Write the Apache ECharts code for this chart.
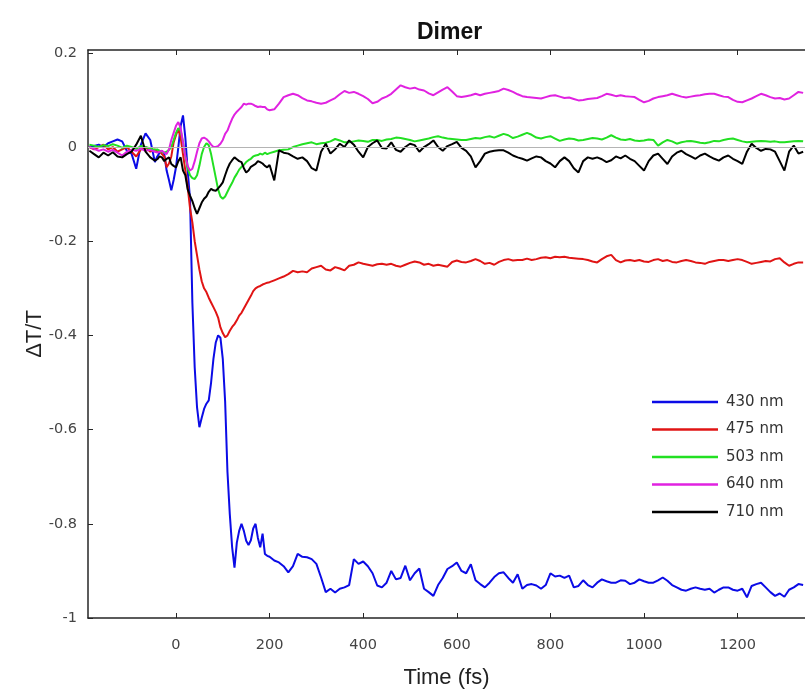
<!DOCTYPE html>
<html>
<head>
<meta charset="utf-8">
<title>Dimer</title>
<script src="https://cdn.jsdelivr.net/npm/echarts@6/dist/echarts.min.js"></script>
<style>
  html, body { margin: 0; padding: 0; background: #ffffff; }
  #chart { width: 805px; height: 695px; }
</style>
</head>
<body>
<div id="chart"></div>
<script>
// Pump-probe delay times (fs); finer sampling around time zero
const times = [
  -185, -175, -165, -155, -145, -135, -125, -115, -105, -95, -85, -75, -65, -55, -45,
  -40, -35, -30, -25, -20, -15, -10, -5, 0, 5,
  10, 15, 20, 25, 30, 35, 40, 45, 50, 55,
  60, 65, 70, 75, 80, 85, 90, 95, 100, 105,
  110, 115, 120, 125, 130, 135, 140, 145, 150, 155,
  160, 165, 170, 175, 180, 185, 190, 195, 200,
  210, 220, 230, 240, 250, 260, 270, 280, 290, 300,
  310, 320, 330, 340, 350, 360, 370, 380, 390, 400,
  410, 420, 430, 440, 450, 460, 470, 480, 490, 500,
  510, 520, 530, 540, 550, 560, 570, 580, 590, 600,
  610, 620, 630, 640, 650, 660, 670, 680, 690, 700,
  710, 720, 730, 740, 750, 760, 770, 780, 790, 800,
  810, 820, 830, 840, 850, 860, 870, 880, 890, 900,
  910, 920, 930, 940, 950, 960, 970, 980, 990, 1000,
  1010, 1020, 1030, 1040, 1050, 1060, 1070, 1080, 1090, 1100,
  1110, 1120, 1130, 1140, 1150, 1160, 1170, 1180, 1190, 1200,
  1210, 1220, 1230, 1240, 1250, 1260, 1270, 1280, 1290, 1300,
  1310, 1320, 1330, 1340
];

// ΔT/T transients at each probe wavelength
const dT430 = [
  0.000, 0.002, 0.005, 0.000, 0.008, 0.012, 0.016, 0.012, -0.008, -0.014, -0.046, 0.005, 0.029, 0.015, -0.032,
  -0.020, -0.012, -0.008, -0.015, -0.050, -0.070, -0.092, -0.070, -0.043, 0.000,
  0.045, 0.067, 0.020, -0.050, -0.110, -0.330, -0.468, -0.553, -0.595, -0.575,
  -0.556, -0.545, -0.538, -0.500, -0.450, -0.415, -0.400, -0.405, -0.450, -0.540,
  -0.690, -0.780, -0.850, -0.893, -0.840, -0.815, -0.800, -0.815, -0.836, -0.845,
  -0.835, -0.810, -0.800, -0.830, -0.850, -0.821, -0.864, -0.868, -0.870,
  -0.878, -0.882, -0.890, -0.903, -0.890, -0.864, -0.870, -0.871, -0.875, -0.885,
  -0.914, -0.945, -0.938, -0.946, -0.938, -0.935, -0.930, -0.875, -0.885, -0.880,
  -0.890, -0.905, -0.931, -0.935, -0.925, -0.900, -0.918, -0.915, -0.889, -0.920,
  -0.905, -0.895, -0.938, -0.945, -0.953, -0.930, -0.915, -0.896, -0.890, -0.882,
  -0.900, -0.905, -0.886, -0.920, -0.928, -0.935, -0.925, -0.913, -0.905, -0.903,
  -0.915, -0.925, -0.907, -0.938, -0.930, -0.928, -0.931, -0.938, -0.930, -0.905,
  -0.912, -0.910, -0.915, -0.910, -0.935, -0.932, -0.920, -0.930, -0.935, -0.925,
  -0.918, -0.922, -0.925, -0.925, -0.920, -0.921, -0.928, -0.925, -0.918, -0.922,
  -0.925, -0.925, -0.920, -0.914, -0.921, -0.930, -0.935, -0.940, -0.942, -0.938,
  -0.935, -0.938, -0.940, -0.938, -0.946, -0.940, -0.935, -0.935, -0.940, -0.942,
  -0.938, -0.956, -0.932, -0.928, -0.925, -0.935, -0.945, -0.953, -0.948, -0.955,
  -0.940, -0.935, -0.928, -0.930
];
const dT475 = [
  0.000, -0.005, 0.000, 0.005, -0.005, 0.000, -0.010, -0.005, 0.000, -0.010, -0.020, -0.005, 0.000, -0.010, -0.005,
  -0.010, -0.008, -0.015, -0.020, -0.043, -0.035, -0.020, 0.010, 0.025, 0.039,
  0.020, -0.015, -0.050, -0.085, -0.130, -0.160, -0.200, -0.230, -0.260, -0.285,
  -0.300, -0.308, -0.320, -0.330, -0.340, -0.350, -0.362, -0.383, -0.395, -0.404,
  -0.400, -0.390, -0.382, -0.376, -0.368, -0.358, -0.352, -0.343, -0.334, -0.325,
  -0.316, -0.306, -0.300, -0.297, -0.295, -0.292, -0.290, -0.288, -0.287,
  -0.283, -0.279, -0.275, -0.270, -0.263, -0.266, -0.264, -0.266, -0.258, -0.255,
  -0.252, -0.260, -0.262, -0.255, -0.258, -0.262, -0.252, -0.250, -0.245, -0.248,
  -0.250, -0.252, -0.249, -0.248, -0.250, -0.248, -0.252, -0.254, -0.250, -0.246,
  -0.243, -0.245, -0.250, -0.248, -0.252, -0.250, -0.252, -0.254, -0.244, -0.241,
  -0.244, -0.245, -0.242, -0.238, -0.242, -0.248, -0.246, -0.250, -0.244, -0.240,
  -0.238, -0.241, -0.240, -0.240, -0.237, -0.240, -0.238, -0.235, -0.234, -0.236,
  -0.233, -0.234, -0.233, -0.235, -0.236, -0.237, -0.238, -0.240, -0.243, -0.245,
  -0.238, -0.232, -0.229, -0.240, -0.245, -0.241, -0.240, -0.242, -0.240, -0.243,
  -0.244, -0.240, -0.238, -0.242, -0.240, -0.244, -0.245, -0.242, -0.240, -0.242,
  -0.245, -0.246, -0.248, -0.244, -0.242, -0.240, -0.240, -0.242, -0.240, -0.238,
  -0.240, -0.244, -0.248, -0.246, -0.244, -0.242, -0.243, -0.238, -0.236, -0.245,
  -0.252, -0.248, -0.245, -0.245
];
const dT503 = [
  0.005, 0.003, 0.000, 0.004, 0.002, 0.006, 0.003, -0.002, 0.003, 0.000, -0.004, 0.002, 0.000, -0.003, -0.006,
  -0.005, -0.008, -0.010, -0.012, -0.010, -0.006, 0.000, 0.015, 0.030, 0.040,
  0.035, 0.010, -0.020, -0.045, -0.060, -0.066, -0.068, -0.060, -0.040, -0.015,
  0.000, 0.008, 0.004, -0.015, -0.040, -0.065, -0.090, -0.105, -0.110, -0.105,
  -0.095, -0.085, -0.076, -0.065, -0.057, -0.048, -0.042, -0.038, -0.032, -0.028,
  -0.025, -0.020, -0.018, -0.017, -0.014, -0.016, -0.012, -0.015, -0.013,
  -0.010, -0.007, -0.006, -0.005, 0.000, 0.003, 0.006, 0.008, 0.010, 0.006,
  0.008, 0.009, 0.012, 0.017, 0.014, 0.010, 0.010, 0.012, 0.014, 0.013,
  0.011, 0.015, 0.015, 0.013, 0.016, 0.017, 0.020, 0.019, 0.017, 0.015,
  0.012, 0.014, 0.016, 0.018, 0.021, 0.023, 0.020, 0.018, 0.017, 0.016,
  0.015, 0.015, 0.017, 0.019, 0.018, 0.021, 0.023, 0.020, 0.024, 0.028,
  0.025, 0.019, 0.022, 0.026, 0.030, 0.026, 0.020, 0.018, 0.021, 0.023,
  0.018, 0.013, 0.016, 0.018, 0.017, 0.014, 0.015, 0.017, 0.019, 0.018,
  0.016, 0.020, 0.025, 0.020, 0.016, 0.015, 0.017, 0.014, 0.013, 0.014,
  0.016, 0.015, 0.003, 0.010, 0.015, 0.012, 0.007, 0.010, 0.012, 0.013,
  0.011, 0.009, 0.008, 0.010, 0.013, 0.012, 0.015, 0.017, 0.018, 0.015,
  0.012, 0.010, 0.011, 0.012, 0.013, 0.012, 0.011, 0.012, 0.010, 0.010,
  0.011, 0.012, 0.013, 0.012
];
const dT640 = [
  0.000, -0.004, -0.008, -0.005, -0.010, -0.006, -0.012, -0.018, -0.010, -0.006, -0.008, -0.004, -0.008, -0.006, -0.010,
  -0.012, -0.010, -0.008, -0.012, -0.015, -0.005, 0.015, 0.030, 0.045, 0.053,
  0.040, 0.010, -0.020, -0.040, -0.050, -0.046, -0.030, -0.010, 0.008, 0.018,
  0.020, 0.017, 0.012, 0.005, 0.000, 0.000, 0.002, 0.007, 0.015, 0.028,
  0.035, 0.048, 0.060, 0.069, 0.075, 0.080, 0.085, 0.092, 0.090, 0.092,
  0.092, 0.090, 0.087, 0.085, 0.086, 0.085, 0.085, 0.080, 0.078,
  0.080, 0.092, 0.106, 0.110, 0.113, 0.110, 0.104, 0.099, 0.097, 0.094,
  0.092, 0.094, 0.099, 0.104, 0.112, 0.119, 0.115, 0.117, 0.113, 0.108,
  0.102, 0.093, 0.096, 0.103, 0.107, 0.113, 0.122, 0.131, 0.127, 0.124,
  0.126, 0.122, 0.120, 0.114, 0.110, 0.116, 0.122, 0.127, 0.118, 0.108,
  0.106, 0.108, 0.110, 0.113, 0.110, 0.113, 0.115, 0.117, 0.119, 0.124,
  0.121, 0.117, 0.112, 0.108, 0.106, 0.105, 0.104, 0.103, 0.106, 0.109,
  0.110, 0.107, 0.104, 0.105, 0.102, 0.099, 0.100, 0.102, 0.103, 0.104,
  0.108, 0.113, 0.111, 0.108, 0.110, 0.108, 0.107, 0.106, 0.100, 0.095,
  0.098, 0.103, 0.106, 0.108, 0.110, 0.113, 0.110, 0.107, 0.105, 0.107,
  0.109, 0.110, 0.112, 0.113, 0.113, 0.110, 0.107, 0.106, 0.100, 0.096,
  0.095, 0.099, 0.103, 0.108, 0.113, 0.110, 0.106, 0.103, 0.104, 0.101,
  0.103, 0.110, 0.117, 0.115
];
const dT710 = [
  -0.008, -0.015, -0.022, -0.012, -0.018, -0.011, -0.020, -0.022, -0.015, -0.010, 0.005, 0.024, -0.010, -0.022, -0.029,
  -0.026, -0.020, -0.022, -0.030, -0.025, -0.022, -0.036, -0.040, -0.043, -0.030,
  -0.022, -0.050, -0.060, -0.090, -0.103, -0.115, -0.130, -0.142, -0.130, -0.118,
  -0.110, -0.105, -0.095, -0.089, -0.092, -0.093, -0.088, -0.082, -0.075, -0.060,
  -0.046, -0.035, -0.028, -0.022, -0.026, -0.030, -0.032, -0.045, -0.054, -0.050,
  -0.042, -0.039, -0.036, -0.030, -0.032, -0.035, -0.040, -0.043, -0.038,
  -0.071, -0.007, -0.012, -0.014, -0.020, -0.025, -0.022, -0.030, -0.045, -0.050,
  -0.010, 0.007, -0.014, -0.005, 0.007, 0.000, 0.014, 0.005, -0.010, -0.022,
  0.000, 0.008, 0.014, -0.002, -0.003, 0.010, -0.006, -0.010, 0.000, 0.007,
  0.004, -0.010, 0.000, 0.006, 0.014, 0.000, -0.008, 0.002, 0.006, 0.011,
  -0.002, -0.008, -0.020, -0.043, -0.030, -0.014, -0.010, -0.008, -0.007, -0.007,
  -0.012, -0.018, -0.022, -0.025, -0.029, -0.024, -0.020, -0.022, -0.030, -0.035,
  -0.043, -0.030, -0.022, -0.030, -0.045, -0.054, -0.030, -0.022, -0.025, -0.022,
  -0.026, -0.032, -0.028, -0.020, -0.024, -0.018, -0.025, -0.030, -0.040, -0.050,
  -0.030, -0.018, -0.014, -0.025, -0.036, -0.020, -0.012, -0.008, -0.015, -0.020,
  -0.025, -0.018, -0.014, -0.020, -0.025, -0.029, -0.022, -0.018, -0.025, -0.030,
  -0.036, -0.010, 0.007, -0.002, -0.008, -0.004, -0.005, -0.010, -0.030, -0.050,
  -0.010, 0.003, -0.014, -0.010
];

const seriesNames = ['430 nm', '475 nm', '503 nm', '640 nm', '710 nm'];
const seriesValues = [dT430, dT475, dT503, dT640, dT710];
const seriesColors = ['#0b0be6', '#e01414', '#22e022', '#e022e0', '#000000'];

const xTicks = [0, 200, 400, 600, 800, 1000, 1200];
const yTicks = [-1, -0.8, -0.6, -0.4, -0.2, 0, 0.2];

const axisColor = '#262626';
const tickFont = { fontFamily: 'DejaVu Sans', fontSize: 14.5, color: '#444444' };
const plainNumber = v => String(v);

const chart = echarts.init(document.getElementById('chart'), null, { renderer: 'canvas' });

const series = seriesNames.map((name, k) => {
  const s = {
    name: name,
    type: 'line',
    data: times.map((t, i) => [t, seriesValues[k][i]]),
    showSymbol: false,
    symbol: 'none',
    lineStyle: { color: seriesColors[k], width: 2 },
    itemStyle: { color: seriesColors[k] },
    emphasis: { disabled: true },
    animation: false
  };
  if (k === 0) {
    // zero reference line across the plot
    s.markLine = {
      silent: true,
      symbol: 'none',
      label: { show: false },
      lineStyle: { color: '#b4b4b4', width: 1, type: 'solid' },
      data: [{ yAxis: 0 }],
      animation: false
    };
  }
  return s;
});

chart.setOption({
  animation: false,
  backgroundColor: '#ffffff',
  title: {
    text: 'Dimer',
    left: 412,
    top: 16,
    textStyle: { fontFamily: 'Liberation Sans', fontWeight: 'bold', fontSize: 23, color: '#111111' }
  },
  grid: { left: 88, top: 50, width: 723, height: 568, containLabel: false },
  legend: {
    orient: 'vertical',
    left: 652,
    top: 394,
    padding: 0,
    itemWidth: 66,
    itemHeight: 2.5,
    itemGap: 11.5,
    icon: 'rect',
    selectedMode: false,
    data: seriesNames,
    textStyle: { fontFamily: 'DejaVu Sans', fontSize: 15, color: '#333333', lineHeight: 16, padding: [0, 0, 0, 3] }
  },
  xAxis: [
    {
      type: 'value',
      position: 'bottom',
      min: -188,
      max: 1344,
      name: 'Time (fs)',
      nameLocation: 'middle',
      nameGap: 49,
      nameMoveOverlap: false,
      nameTextStyle: { fontFamily: 'Liberation Sans', fontSize: 22, color: '#222222' },
      axisLine: { show: true, onZero: false, lineStyle: { color: axisColor, width: 1.5 } },
      axisTick: { show: true, inside: true, length: 5, customValues: xTicks, lineStyle: { color: axisColor, width: 1 } },
      axisLabel: Object.assign({ customValues: xTicks, margin: 20, formatter: plainNumber }, tickFont),
      splitLine: { show: false }
    },
    {
      type: 'value',
      position: 'top',
      min: -188,
      max: 1344,
      axisLine: { show: true, onZero: false, lineStyle: { color: axisColor, width: 1.5 } },
      axisTick: { show: true, inside: true, length: 5, customValues: xTicks, lineStyle: { color: axisColor, width: 1 } },
      axisLabel: { show: false },
      splitLine: { show: false }
    }
  ],
  yAxis: {
    type: 'value',
    min: -1,
    max: 0.206,
    name: 'ΔT/T',
    nameLocation: 'middle',
    nameRotate: 90,
    nameGap: 42,
    nameMoveOverlap: false,
    nameTextStyle: { fontFamily: 'Liberation Sans', fontSize: 22, color: '#222222' },
    axisLine: { show: true, onZero: false, lineStyle: { color: axisColor, width: 1.5 } },
    axisTick: { show: true, inside: true, length: 5, customValues: yTicks, lineStyle: { color: axisColor, width: 1 } },
    axisLabel: Object.assign({ customValues: yTicks, margin: 11, padding: [6, 0, 0, 0], formatter: plainNumber }, tickFont),
    splitLine: { show: false }
  },
  series: series
});
</script>
</body>
</html>
